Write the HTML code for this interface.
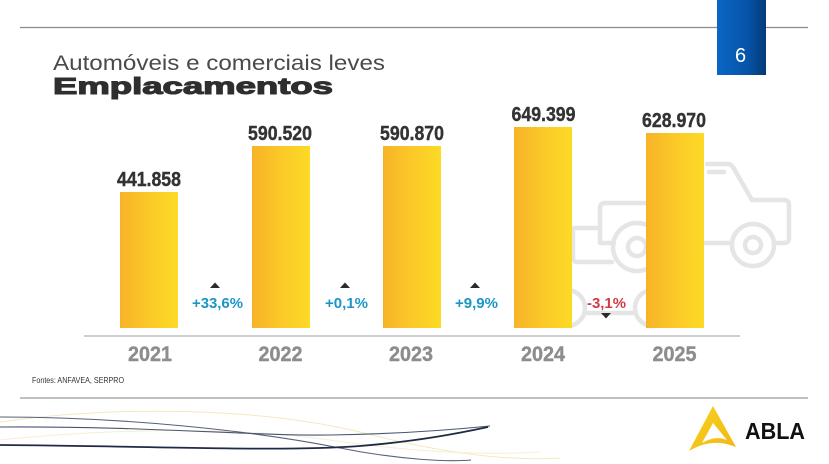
<!DOCTYPE html>
<html><head><meta charset="utf-8"><style>
html,body{margin:0;padding:0;background:#fff;}
svg{display:block;}
text{font-family:"Liberation Sans",sans-serif;}
</style></head><body>
<svg width="829" height="464" viewBox="0 0 829 464" xmlns="http://www.w3.org/2000/svg">
<defs>
<linearGradient id="bar" x1="0" y1="0" x2="1" y2="0">
<stop offset="0" stop-color="#f7b328"/><stop offset="0.5" stop-color="#fbc928"/><stop offset="1" stop-color="#fdda26"/>
</linearGradient>
<linearGradient id="blue" x1="0" y1="0" x2="1" y2="0">
<stop offset="0" stop-color="#0b66c4"/><stop offset="0.6" stop-color="#0655aa"/><stop offset="1" stop-color="#023a78"/>
</linearGradient>
<linearGradient id="logo" x1="0" y1="0" x2="1" y2="1">
<stop offset="0" stop-color="#f9d21c"/><stop offset="1" stop-color="#eeb814"/>
</linearGradient>
</defs>
<rect width="829" height="464" fill="#fff"/>

<!-- top line -->
<line x1="20" y1="27.5" x2="808" y2="27.5" stroke="#8a8a8a" stroke-width="1.2"/>
<!-- blue page box -->
<rect x="717" y="0" width="49" height="75" fill="url(#blue)"/>
<text x="740.5" y="62" font-size="20" fill="#fff" text-anchor="middle">6</text>

<!-- titles -->
<text x="53" y="70" font-size="21" fill="#4a4a4a" textLength="332" lengthAdjust="spacingAndGlyphs">Automóveis e comerciais leves</text>
<text x="53" y="94" font-size="23" font-weight="bold" fill="#2e2e2e" stroke="#2e2e2e" stroke-width="1.1" textLength="280" lengthAdjust="spacingAndGlyphs">Emplacamentos</text>

<!-- truck icon -->
<g fill="none" stroke="#e5e5e5" stroke-width="4.5" stroke-linejoin="round" stroke-linecap="round">
<path d="M707 164 L728 164 Q731 164 733 167 L752 200 L784 200 Q789 200 789 205 L789 238 Q789 243 784 243 L775 243"/>
<path d="M709 172 L724 172"/>
<path d="M731 243 L660 243"/>
<path d="M614 243 L600 243 L600 208 Q600 203 605 203 L648 203"/>
<path d="M600 228 L573 228 L573 258 Q573 262 578 262 L612 262"/>
<circle cx="753" cy="245" r="21"/>
<circle cx="753" cy="245" r="8"/>
<circle cx="637" cy="247" r="24"/>
<circle cx="637" cy="247" r="9"/>
<circle cx="567" cy="308" r="18"/>
<circle cx="653" cy="308" r="18"/>
<path d="M585 313 L635 313"/>
</g>

<!-- bars -->
<rect x="120" y="192" width="58" height="136" fill="url(#bar)"/>
<rect x="252" y="146" width="58" height="182" fill="url(#bar)"/>
<rect x="383" y="146" width="58" height="182" fill="url(#bar)"/>
<rect x="514" y="127" width="58" height="201" fill="url(#bar)"/>
<rect x="646" y="133" width="58" height="195" fill="url(#bar)"/>

<!-- value labels -->
<g font-size="20" font-weight="bold" fill="#333" stroke="#333" stroke-width="0.4" text-anchor="middle">
<text x="149" y="186" textLength="64" lengthAdjust="spacingAndGlyphs">441.858</text>
<text x="280" y="140" textLength="64" lengthAdjust="spacingAndGlyphs">590.520</text>
<text x="412" y="140" textLength="64" lengthAdjust="spacingAndGlyphs">590.870</text>
<text x="543.5" y="121" textLength="64" lengthAdjust="spacingAndGlyphs">649.399</text>
<text x="674" y="127" textLength="64" lengthAdjust="spacingAndGlyphs">628.970</text>
</g>

<!-- percentage labels -->
<g font-size="14.5" font-weight="bold">
<text x="217.5" y="308" fill="#1b96c6" text-anchor="middle" textLength="51" lengthAdjust="spacingAndGlyphs">+33,6%</text>
<text x="346.5" y="308" fill="#1b96c6" text-anchor="middle" textLength="43" lengthAdjust="spacingAndGlyphs">+0,1%</text>
<text x="476.5" y="308" fill="#1b96c6" text-anchor="middle" textLength="43" lengthAdjust="spacingAndGlyphs">+9,9%</text>
<text x="606.5" y="308" fill="#d23a44" text-anchor="middle" textLength="39" lengthAdjust="spacingAndGlyphs">-3,1%</text>
</g>
<g fill="#2a2a2a">
<path d="M210 288 L220 288 L215 282.5 Z"/>
<path d="M340 288 L350 288 L345 282.5 Z"/>
<path d="M470 288 L480 288 L475 282.5 Z"/>
<path d="M601 313 L611 313 L606 318.5 Z"/>
</g>

<!-- baseline -->
<line x1="84" y1="336" x2="740" y2="336" stroke="#cfcfcf" stroke-width="2"/>

<!-- years -->
<g font-size="21" font-weight="bold" fill="#8d8d8d" stroke="#8d8d8d" stroke-width="0.4" text-anchor="middle">
<text x="150" y="361" textLength="44" lengthAdjust="spacingAndGlyphs">2021</text>
<text x="280.5" y="361" textLength="44" lengthAdjust="spacingAndGlyphs">2022</text>
<text x="411" y="361" textLength="44" lengthAdjust="spacingAndGlyphs">2023</text>
<text x="543" y="361" textLength="44" lengthAdjust="spacingAndGlyphs">2024</text>
<text x="674.5" y="361" textLength="44" lengthAdjust="spacingAndGlyphs">2025</text>
</g>

<!-- source -->
<text x="32" y="383" font-size="8.5" fill="#333" textLength="92" lengthAdjust="spacingAndGlyphs">Fontes: ANFAVEA, SERPRO</text>

<!-- bottom line -->
<line x1="20" y1="398" x2="808" y2="398" stroke="#9a9a9a" stroke-width="1.2"/>

<!-- swooshes -->
<g fill="none">
<path d="M0 422 C 120 405, 260 408, 360 432 C 430 450, 500 462, 560 458" stroke="#f4e9bd" stroke-width="1"/>
<path d="M0 440 C 100 430, 220 425, 330 440 C 400 450, 470 456, 540 452" stroke="#f6efd2" stroke-width="1"/>
<path d="M0 417 C 120 417, 250 430, 340 448 C 400 460, 450 462, 471 460" stroke="#56607a" stroke-width="1.1"/>
<path d="M0 427 C 150 426, 250 436, 330 435 C 400 434, 450 430, 490 426" stroke="#4a5570" stroke-width="1.1"/>
<path d="M0 445 C 150 446, 280 452, 360 446 C 420 441, 460 433, 488 427" stroke="#1f2a44" stroke-width="1.8"/>
</g>

<!-- ABLA logo -->
<path d="M713 406 L689 451 Q712 437 736 447 Z" fill="url(#logo)"/>
<path d="M713 423 L702 443 Q715 435 727 440 Z" fill="#fff"/>
<text x="745" y="439" font-size="23" font-weight="bold" fill="#111" textLength="60" lengthAdjust="spacingAndGlyphs">ABLA</text>
</svg>
</body></html>
